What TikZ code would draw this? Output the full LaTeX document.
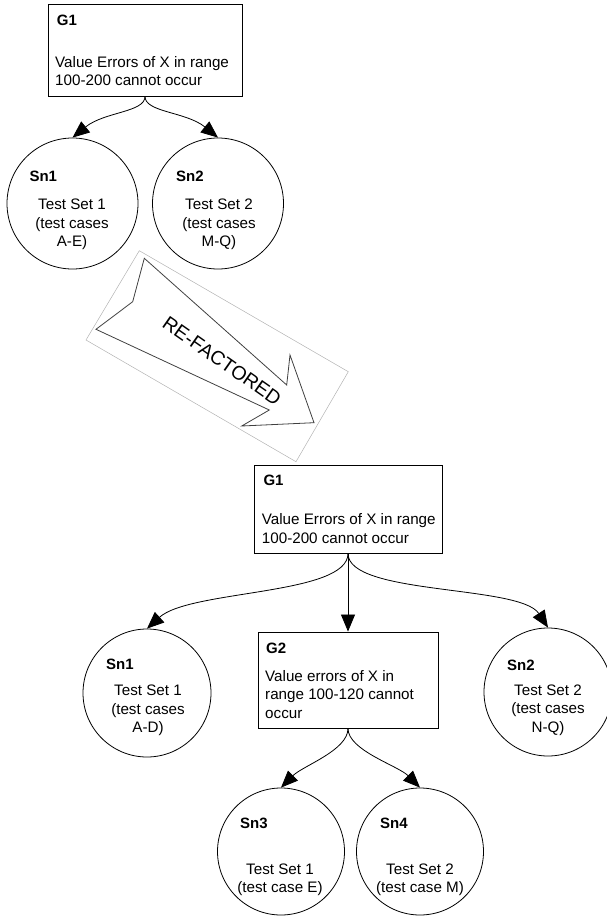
\documentclass[tikz,border=0pt]{standalone}
\usepackage{fontspec}
\setmainfont{Liberation Sans}
\usetikzlibrary{arrows.meta}
\begin{document}
\begin{tikzpicture}[x=1pt,y=-1pt,
  goalbox/.style={draw, line width=0.85pt, inner sep=0pt},
  solcirc/.style={draw, circle, line width=0.8pt, inner sep=0pt},
  lbl/.style={anchor=base west, inner sep=0pt, font=\fontsize{15}{18}\selectfont\bfseries},
  txt/.style={inner sep=0pt, font=\fontsize{15.2}{18.4}\selectfont},
  conn/.style={line width=0.8pt, -{Triangle[length=17pt,width=14pt]}},
  refarrow/.style={draw=black!75, line width=0.8pt, line join=miter},
  refframe/.style={draw=black!30, line width=0.5pt}
  ]
\useasboundingbox (0,0) rectangle (607,918);

% ---------- top (before) ----------
\node[goalbox, minimum width=194pt, minimum height=92pt] (tg1) at (145,50) {};
\node[lbl] (tg1l) at (56.7,25.5) {G1};
\node[txt, anchor=west, align=left] (tg1t) at (55,70.9) {Value Errors of X in range\\100-200 cannot occur};

\node[solcirc, minimum size=131pt] (tsn1) at (72.5,203.5) {};
\node[lbl] (tsn1l) at (29.3,181.5) {Sn1};
\node[txt, align=center] (tsn1t) at (72,224.5) {Test Set 1\\(test cases\\A-E)};

\node[solcirc, minimum size=131pt] (tsn2) at (218,203.5) {};
\node[lbl] (tsn2l) at (176,181.5) {Sn2};
\node[txt, align=center] (tsn2t) at (219,224.5) {Test Set 2\\(test cases\\M-Q)};

\draw[conn] (tg1.south) .. controls +(0,16) and +(32,-26) .. (tsn1.north);
\draw[conn] (tg1.south) .. controls +(0,16) and +(-32,-26) .. (tsn2.north);

% ---------- re-factored block arrow ----------
\coordinate (r1) at (139.3,250.7);
\coordinate (r2) at (348.3,371.7);
\coordinate (r3) at (296,461.7);
\coordinate (r4) at (86,340);
\draw[refframe] (r1) -- (r2) -- (r3) -- (r4) -- cycle;

\coordinate (a1) at (144.3,258.3);
\coordinate (a2) at (132.7,301.7);
\coordinate (a3) at (96,329.3);
\coordinate (a4) at (269.3,410);
\coordinate (a5) at (241.7,426);
\coordinate (a6) at (314,422.7);
\coordinate (a7) at (290,355);
\coordinate (a8) at (286.7,385);
\draw[refarrow] (a1) -- (a2) -- (a3) -- (a4) -- (a5) -- (a6) -- (a7) -- (a8) -- cycle;
\node[inner sep=0pt, rotate=-35, font=\fontsize{19.5}{22}\selectfont] (reft) at (222,361) {RE-FACTORED};

% ---------- bottom (after) ----------
\node[goalbox, minimum width=188pt, minimum height=88pt] (bg1) at (348,509) {};
\node[lbl] (bg1l) at (263.3,485.5) {G1};
\node[txt, anchor=west, align=left] (bg1t) at (261.7,528.7) {Value Errors of X in range\\100-200 cannot occur};

\node[goalbox, minimum width=180pt, minimum height=96pt] (g2) at (348,680) {};
\node[lbl] (g2l) at (266,653.5) {G2};
\node[txt, anchor=west, align=left] (g2t) at (265,694.3) {Value errors of X in\\range 100-120 cannot\\occur};

\node[solcirc, minimum size=128pt] (bsn1) at (147,693) {};
\node[lbl] (bsn1l) at (106,669.5) {Sn1};
\node[txt, align=center] (bsn1t) at (148,710.5) {Test Set 1\\(test cases\\A-D)};

\node[solcirc, minimum size=128pt] (bsn2) at (548,692) {};
\node[lbl] (bsn2l) at (507,670.5) {Sn2};
\node[txt, align=center] (bsn2t) at (548,710) {Test Set 2\\(test cases\\N-Q)};

\node[solcirc, minimum size=127pt] (sn3) at (281,851.5) {};
\node[lbl] (sn3l) at (240,828.5) {Sn3};
\node[txt, align=center] (sn3t) at (280,879.5) {Test Set 1\\(test case E)};

\node[solcirc, minimum size=127pt] (sn4) at (420,851.5) {};
\node[lbl] (sn4l) at (380,828.5) {Sn4};
\node[txt, align=center] (sn4t) at (420,879.5) {Test Set 2\\(test case M)};

\draw[conn] (bg1.south) .. controls +(0,42) and +(43,-39) .. (bsn1.north);
\draw[conn] (bg1.south) -- (g2.north);
\draw[conn] (bg1.south) .. controls +(0,42) and +(-28,-43) .. (bsn2.north);

\draw[conn] (g2.south) .. controls +(0,22) and +(22,-22) .. (sn3.north);
\draw[conn] (g2.south) .. controls +(0,22) and +(-22,-22) .. (sn4.north);
\end{tikzpicture}
\end{document}
